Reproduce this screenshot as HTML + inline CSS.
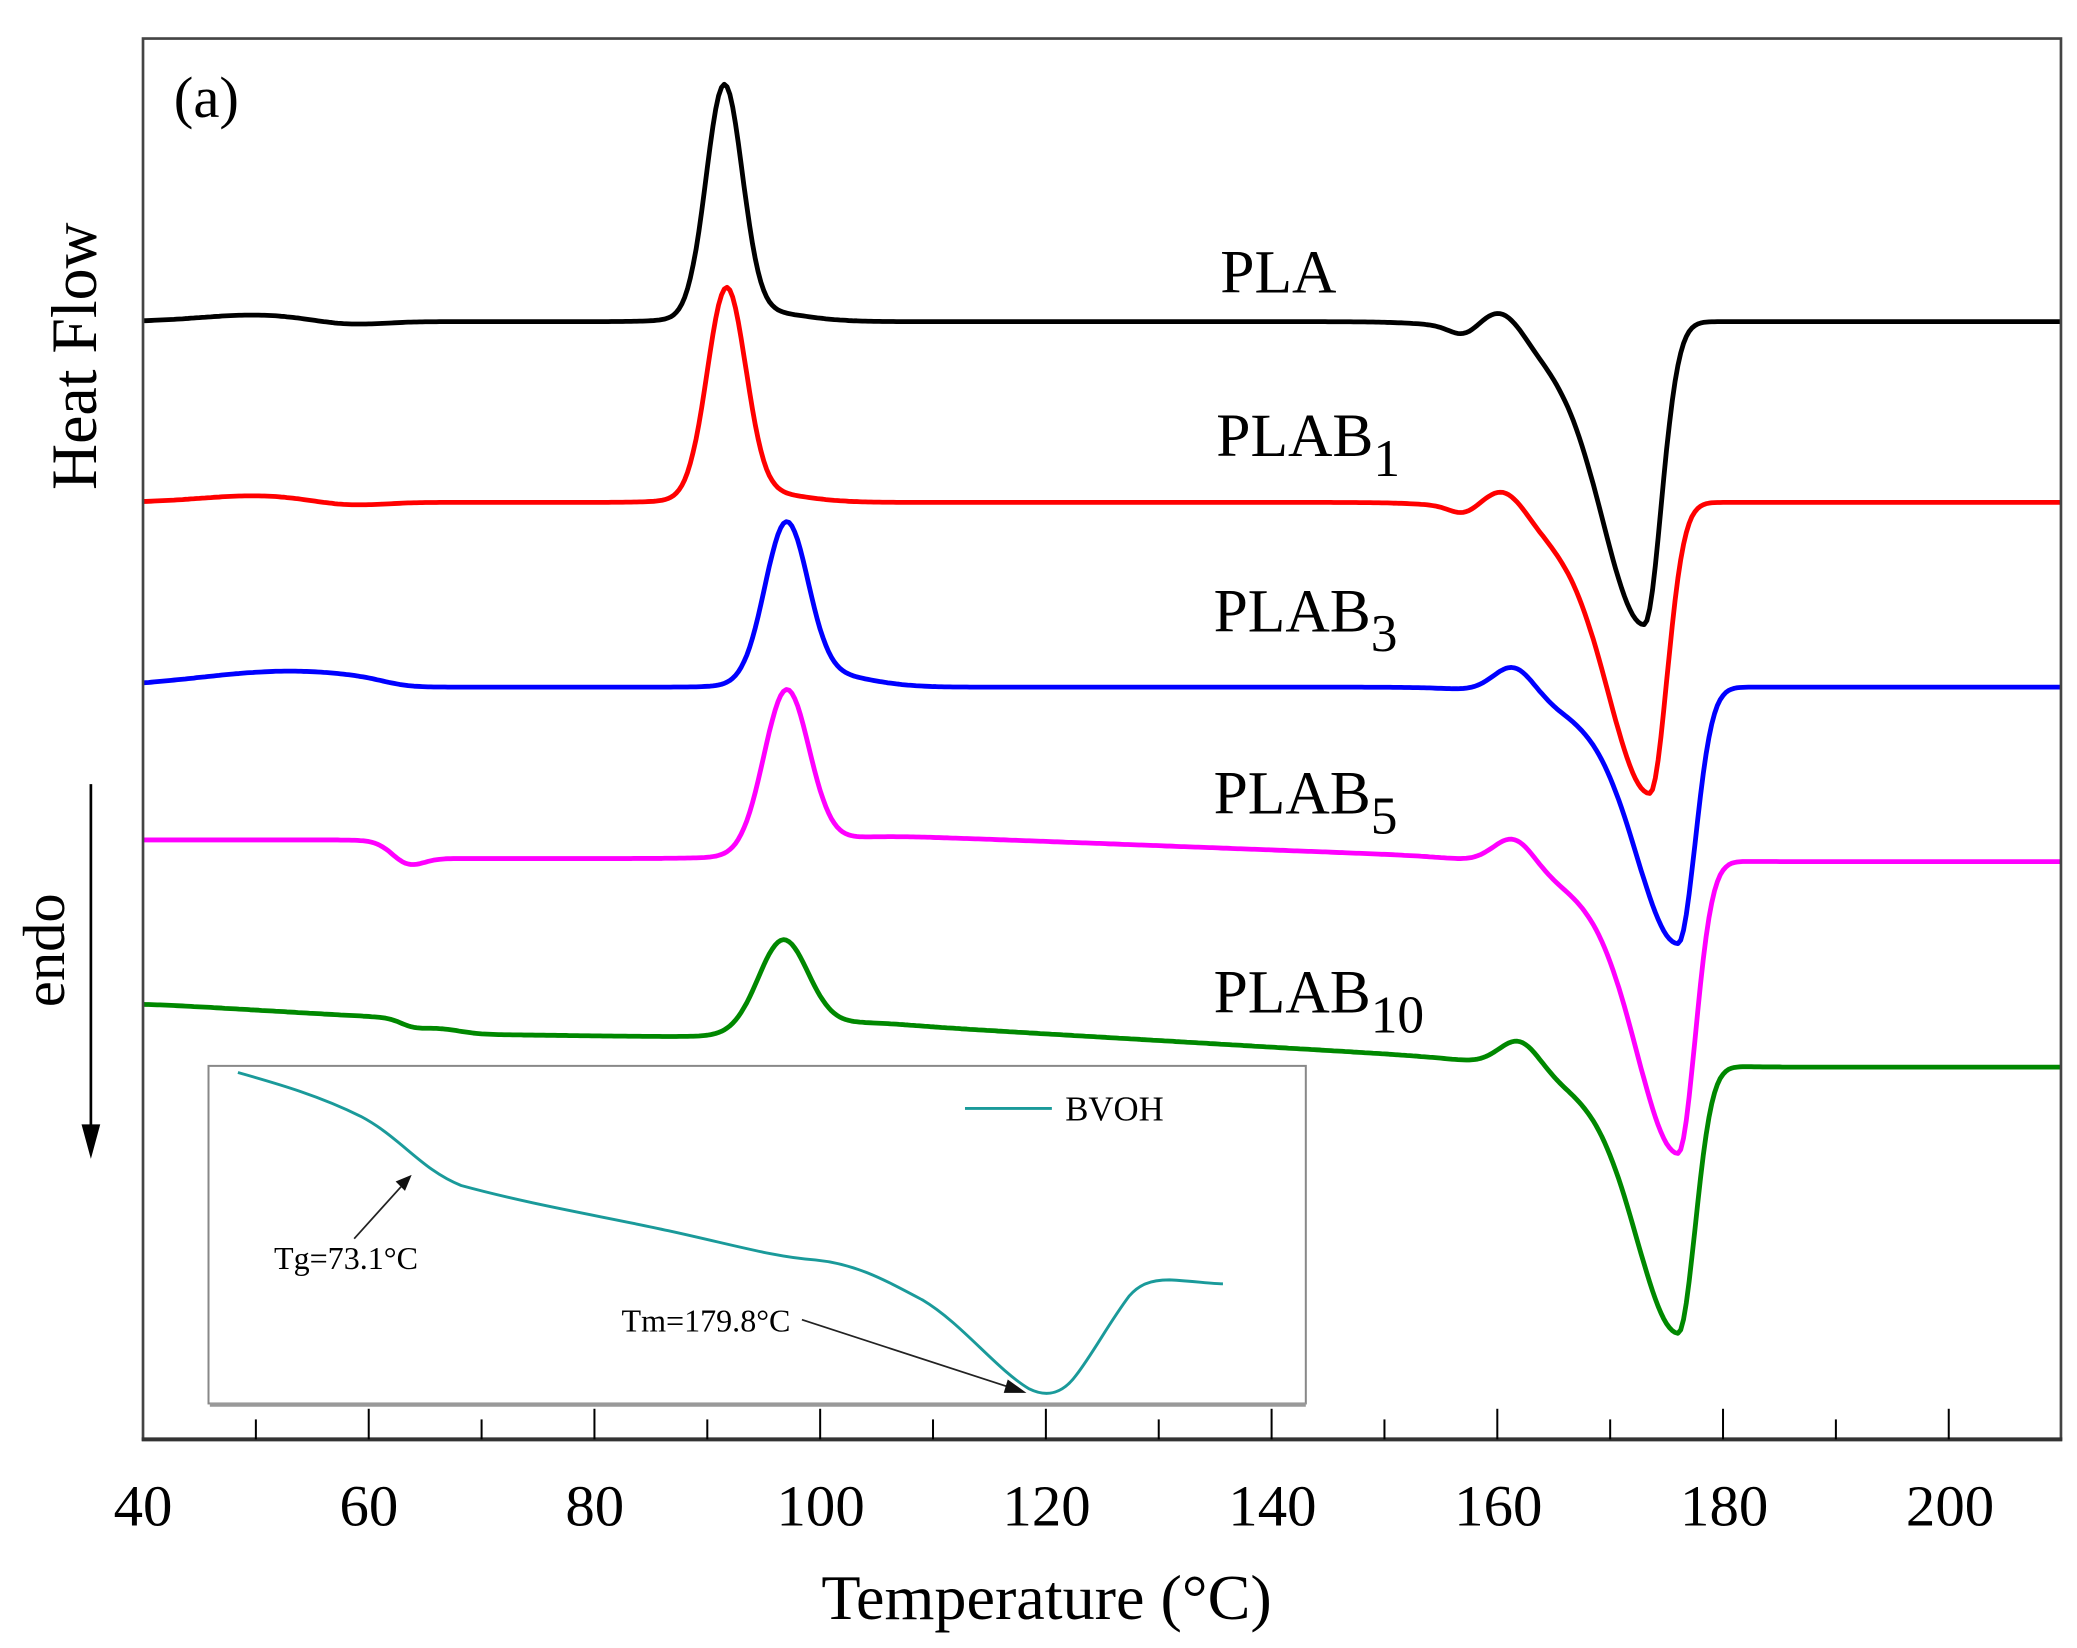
<!DOCTYPE html>
<html><head><meta charset="utf-8"><style>
html,body{margin:0;padding:0;background:#fff}
svg{display:block}
text{font-family:"Liberation Serif",serif;fill:#000}
</style></head><body>
<svg id="s" width="2077" height="1648" viewBox="0 0 1554 1240" preserveAspectRatio="none" xmlns="http://www.w3.org/2000/svg">
<rect x="0" y="0" width="1554" height="1240" fill="#fff"/>
<g id="curves" fill="none" stroke-width="3.6" stroke-linejoin="round"></g>
<rect x="107" y="29" width="1435" height="1054" fill="none" stroke="#444" stroke-width="2"/>
<line x1="106" y1="1083" x2="1543" y2="1083" stroke="#333" stroke-width="3"/>
<g id="ticks" stroke="#000" stroke-width="1.5"></g>
<g font-size="44" text-anchor="middle">
<text x="107" y="1148">40</text><text x="276" y="1148">60</text><text x="445" y="1148">80</text><text x="614" y="1148">100</text><text x="783" y="1148">120</text><text x="952" y="1148">140</text><text x="1121" y="1148">160</text><text x="1290" y="1148">180</text><text x="1459" y="1148">200</text>
</g>
<text x="783" y="1218" font-size="48" text-anchor="middle">Temperature (°C)</text>
<text x="130" y="88" font-size="44">(a)</text>
<text transform="translate(72,268) rotate(-90)" font-size="48" text-anchor="middle">Heat Flow</text>
<text transform="translate(48,715) rotate(-90)" font-size="44" text-anchor="middle">endo</text>
<line x1="68" y1="590" x2="68" y2="848" stroke="#000" stroke-width="2"/>
<polygon points="61,846 75,846 68,872" fill="#000"/>
<g font-size="46">
<text x="913" y="220">PLA</text>
<text x="910" y="343">PLAB<tspan font-size="40" dy="15">1</tspan></text>
<text x="908" y="475">PLAB<tspan font-size="40" dy="15">3</tspan></text>
<text x="908" y="612">PLAB<tspan font-size="40" dy="15">5</tspan></text>
<text x="908" y="762">PLAB<tspan font-size="40" dy="15">10</tspan></text>
</g>
<rect x="156" y="802" width="821" height="254" fill="#fff" stroke="#888" stroke-width="1.5"/>
<line x1="157" y1="1057" x2="977" y2="1057" stroke="#999" stroke-width="3"/>
<path fill="none" stroke="#1a9a9a" stroke-width="2.2" d="M178,807 C210,816 240,825 270,840 C300,856 315,880 345,892 C400,907 450,915 500,926 C550,937 580,946 610,948 C640,951 660,962 690,978 C720,996 745,1030 770,1045 C782,1051 794,1050 805,1035 C818,1018 830,995 845,975 C852,967 860,963 875,963 C895,964 905,966 915,966"/>
<line x1="722" y1="834" x2="787" y2="834" stroke="#1a9a9a" stroke-width="2.2"/>
<text x="797" y="843" font-size="26">BVOH</text>
<text x="205" y="955" font-size="24">Tg=73.1°C</text>
<line x1="265" y1="932" x2="300" y2="893" stroke="#222" stroke-width="1.3"/>
<polygon points="308,884 296,889 303,896" fill="#111"/>
<text x="465" y="1002" font-size="24">Tm=179.8°C</text>
<line x1="600" y1="993" x2="756" y2="1044" stroke="#222" stroke-width="1.3"/>
<polygon points="768,1048 754,1038 751,1048" fill="#111"/>
</svg>
<script>
var X=function(T){return 107+(T-40)*8.444;};
function g(T,c,s){return Math.exp(-(T-c)*(T-c)/(2*s*s));}
function ag(T,c,sl,sr){var s=T<c?sl:sr;return Math.exp(-(T-c)*(T-c)/(2*s*s));}
function st(T,c,w){return 1/(1+Math.exp(-(T-c)/w));}
function sp(T,c){var w=2,z=(T-c)/w;return z>30?(T-c):w*Math.log(1+Math.exp(z));}
function melt(T,c,A){return A*(0.75*ag(T,c,3.5,1.5)+0.25*ag(T,c,7.5,1.6));}
var defs=[
 {c:"#000",f:function(T){return 242-5*g(T,50,5)+3*g(T,58,3)-172*g(T,91.5,1.6)-8*g(T,94,4)+6*g(T,157,1.2)-20*g(T,160.5,1.8)+melt(T,173,228);}},
 {c:"#f00",f:function(T){return 378-5*g(T,50,5)+3*g(T,58,3)-155*g(T,91.7,1.7)-8*g(T,94,4)+5*g(T,157,1.2)-20*g(T,160.7,1.8)+melt(T,173.5,219);}},
 {c:"#00f",f:function(T){return 517-12*g(T,53,8)*(1-st(T,62,1.2))-117*g(T,97,1.9)-10*g(T,100,4)-22*g(T,161.5,1.8)+melt(T,176,193);}},
 {c:"#f0f",f:function(T){var b=632+14*st(T,62,0.8)-18*st(T,98,2.5)+0.32*(sp(T,104)-sp(T,158))+3*st(T,178,1.5);return b+6*g(T,63.5,1.3)-120*g(T,97,2)-22*g(T,161.5,1.8)+melt(T,176,222);}},
 {c:"#080",f:function(T){var b=755+0.5*(sp(T,40)-sp(T,62))+12*st(T,63,0.7)-4*g(T,66,2)+0.1*(sp(T,66)-sp(T,90))-10*st(T,100,2.5)+0.5*(sp(T,105)-sp(T,158))+6*st(T,178,1.5);return b-68*g(T,96.7,2.2)-4*g(T,100,5)-22*g(T,162,1.8)+melt(T,176,205);}}
];
var G=document.getElementById("curves"),NS="http://www.w3.org/2000/svg";
defs.forEach(function(d){var p="";for(var T=40;T<=210;T+=0.25){p+=(p?"L":"M")+X(T).toFixed(1)+","+d.f(T).toFixed(1);}
var e=document.createElementNS(NS,"path");e.setAttribute("d",p);e.setAttribute("stroke",d.c);G.appendChild(e);});
var K=document.getElementById("ticks");
for(var T=50;T<=200;T+=10){var l=document.createElementNS(NS,"line");var x=X(T);l.setAttribute("x1",x);l.setAttribute("x2",x);l.setAttribute("y1",T%20==0?1060:1068);l.setAttribute("y2",1083);K.appendChild(l);}
</script>
</body></html>
